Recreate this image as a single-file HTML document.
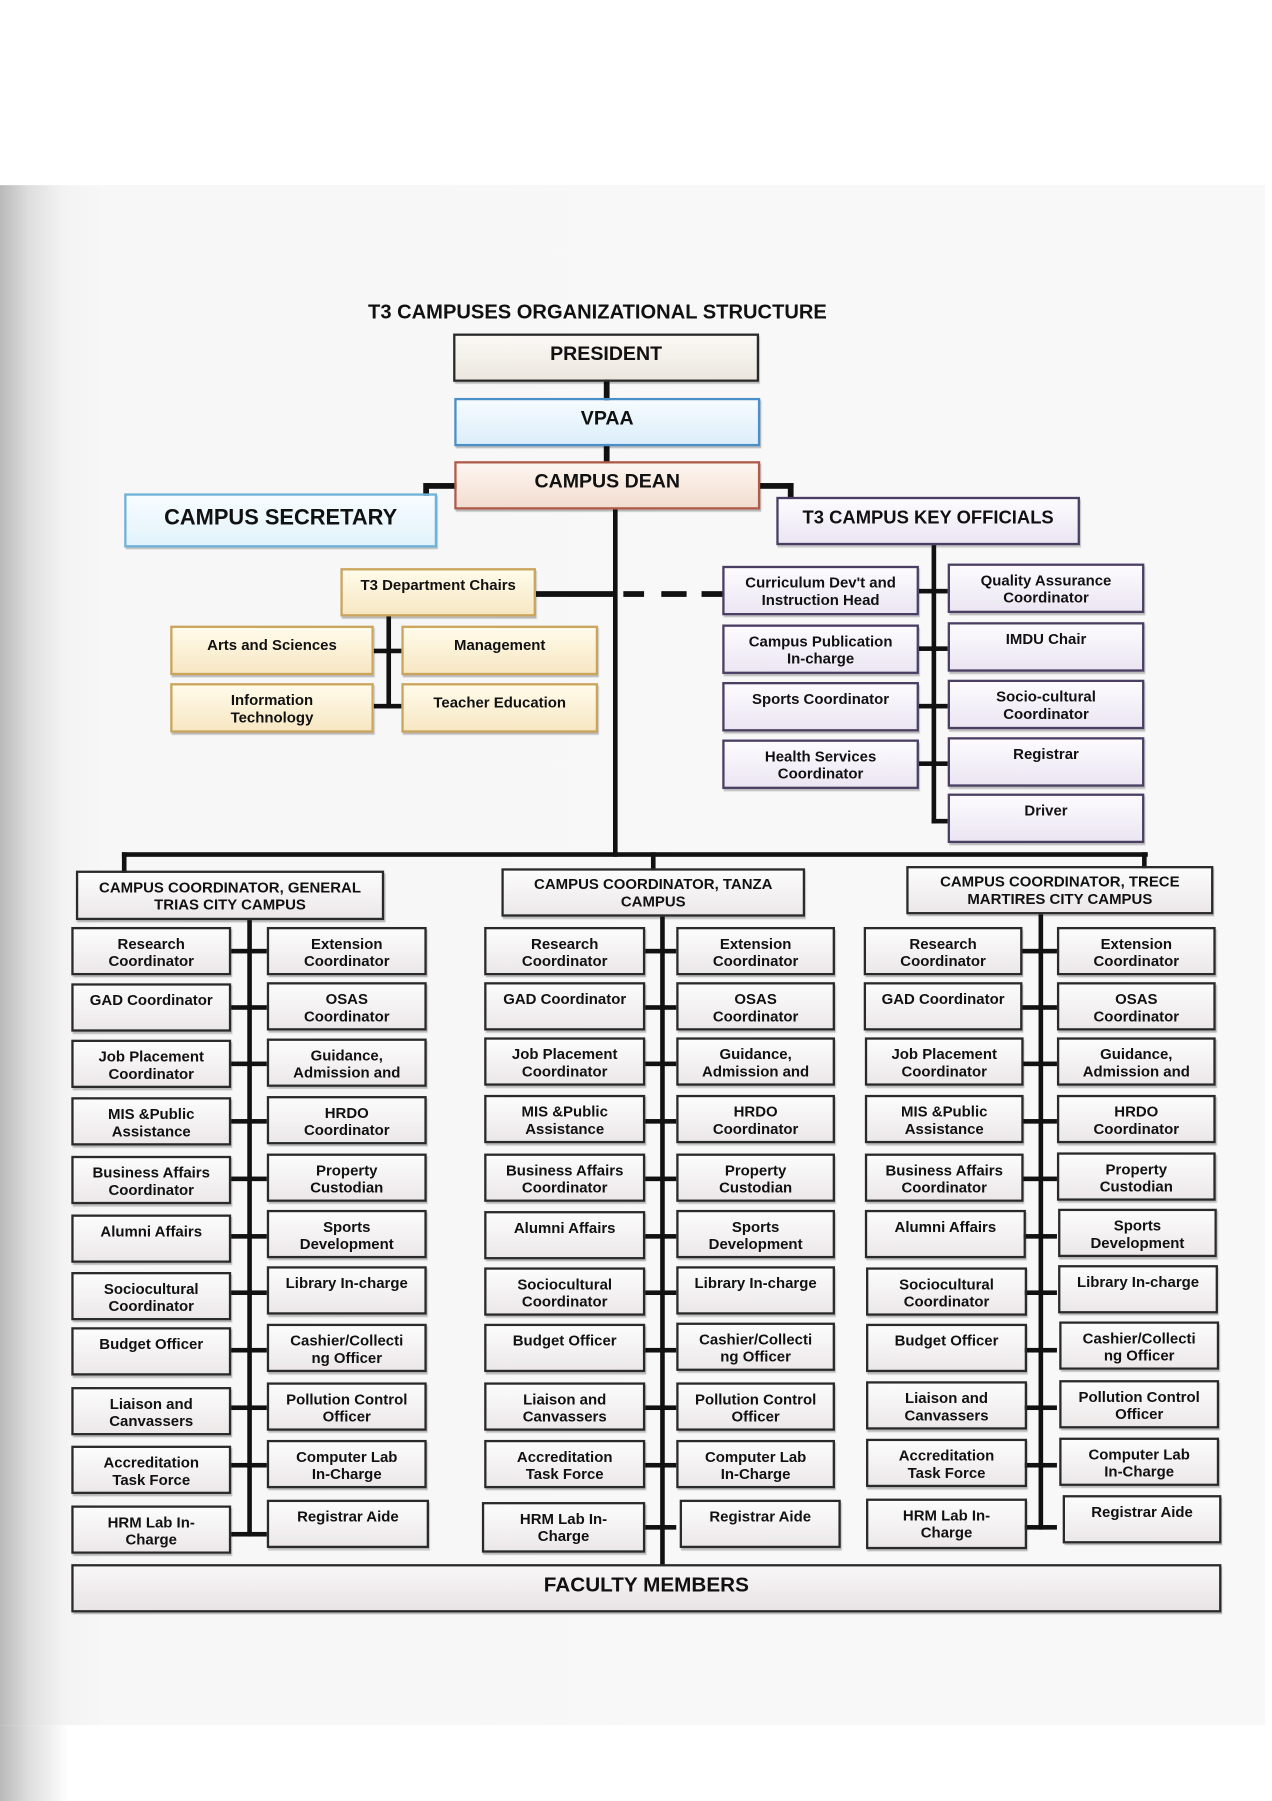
<!DOCTYPE html>
<html><head><meta charset="utf-8"><style>
html,body{margin:0;padding:0;background:#fff;}
body{width:1272px;height:1800px;overflow:hidden;position:relative;font-family:"Liberation Sans",sans-serif;}
#wrap{position:absolute;left:0;top:0;width:1106px;height:1566px;transform:scale(1.1501);transform-origin:0 0;}
.scan{position:absolute;left:0;top:161px;width:1100px;height:1339px;background:linear-gradient(90deg,#b9b9b9 0,#dedede 25px,#f3f3f3 55px,#f7f7f7 90px,#f9f8f8 100%);}
.lowgray{position:absolute;left:0;top:1500px;width:60px;height:66px;background:linear-gradient(90deg,#b9b9b9 0,#dedede 25px,#fff 60px);}
.b{position:absolute;box-sizing:border-box;border:2px solid #2a2a2a;background:linear-gradient(180deg,#fcfcfc,#ece8e9);font-weight:bold;font-size:13px;line-height:15px;text-align:center;color:#111;padding-top:5px;box-shadow:1px 2px 1px rgba(0,0,0,.25);}
.l{position:absolute;background:#111;}
.t{position:absolute;font-weight:bold;color:#111;white-space:nowrap;}
.y{border-color:#caa45a;background:linear-gradient(180deg,#fffbea,#f7e7c3);}
.p{border-color:#4a3e63;background:linear-gradient(180deg,#fdfbff,#ebe6f2);}
.big{font-size:17px;padding-top:8px;}
</style></head><body><div id="wrap">
<div class="scan"></div><div class="lowgray"></div>
<div class="t" style="left:320px;top:261px;font-size:17.5px;">T3 CAMPUSES ORGANIZATIONAL STRUCTURE</div>

<div class="l" style="left:525px;top:330px;width:5px;height:74px"></div>
<div class="b big" style="left:394px;top:290px;width:266px;height:42px;background:linear-gradient(180deg,#fbf9f5,#ece6df)">PRESIDENT</div>
<div class="b big" style="left:395px;top:346px;width:266px;height:42px;border-color:#4a8fc9;background:linear-gradient(180deg,#f6fbff,#dceefa)">VPAA</div>
<div class="l" style="left:370px;top:420px;width:28px;height:5px"></div>
<div class="l" style="left:368px;top:420px;width:5px;height:12px"></div>
<div class="l" style="left:660px;top:420px;width:30px;height:5px"></div>
<div class="l" style="left:685px;top:420px;width:5px;height:14px"></div>
<div class="b big" style="left:395px;top:401px;width:266px;height:42px;border-color:#b05a4a;background:linear-gradient(180deg,#fdf6f0,#f2ddd0)">CAMPUS DEAN</div>
<div class="b" style="left:108px;top:429px;width:272px;height:47px;border-color:#6fb2d8;background:linear-gradient(180deg,#f7fcff,#e2f3fb);font-size:19px;line-height:20px;padding-top:10px">CAMPUS SECRETARY</div>
<div class="b p" style="left:675px;top:432px;width:264px;height:42px;font-size:16px;padding-top:9px">T3 CAMPUS KEY OFFICIALS</div>

<div class="l" style="left:533px;top:443px;width:4px;height:302px"></div>
<div class="l" style="left:466px;top:514px;width:69px;height:5px"></div>
<div class="l" style="left:542px;top:514px;width:18px;height:5px"></div>
<div class="l" style="left:575px;top:514px;width:22px;height:5px"></div>
<div class="l" style="left:610px;top:514px;width:20px;height:5px"></div>

<div class="b y" style="left:296px;top:494px;width:170px;height:42px">T3 Department Chairs</div>
<div class="l" style="left:336px;top:536px;width:4px;height:80px"></div>
<div class="l" style="left:325px;top:564px;width:24px;height:4px"></div>
<div class="l" style="left:325px;top:612px;width:24px;height:4px"></div>
<div class="b y" style="left:148px;top:544px;width:177px;height:43px;padding-top:7px">Arts and Sciences</div>
<div class="b y" style="left:349px;top:544px;width:171px;height:43px;padding-top:7px">Management</div>
<div class="b y" style="left:148px;top:594px;width:177px;height:43px">Information<br>Technology</div>
<div class="b y" style="left:349px;top:594px;width:171px;height:43px;padding-top:7px">Teacher Education</div>

<div class="l" style="left:810px;top:474px;width:4px;height:242px"></div>
<div class="l" style="left:799px;top:512px;width:25px;height:4px"></div>
<div class="l" style="left:799px;top:562px;width:25px;height:4px"></div>
<div class="l" style="left:799px;top:612px;width:25px;height:4px"></div>
<div class="l" style="left:799px;top:662px;width:25px;height:4px"></div>
<div class="l" style="left:810px;top:712px;width:14px;height:4px"></div>
<div class="b p" style="left:628px;top:492px;width:171px;height:43px">Curriculum Dev't and<br>Instruction Head</div>
<div class="b p" style="left:628px;top:543px;width:171px;height:43px">Campus Publication<br>In-charge</div>
<div class="b p" style="left:628px;top:593px;width:171px;height:43px">Sports Coordinator</div>
<div class="b p" style="left:628px;top:643px;width:171px;height:43px">Health Services<br>Coordinator</div>
<div class="b p" style="left:824px;top:490px;width:171px;height:43px">Quality Assurance<br>Coordinator</div>
<div class="b p" style="left:824px;top:541px;width:171px;height:43px">IMDU Chair</div>
<div class="b p" style="left:824px;top:591px;width:171px;height:43px">Socio-cultural<br>Coordinator</div>
<div class="b p" style="left:824px;top:641px;width:171px;height:43px">Registrar</div>
<div class="b p" style="left:824px;top:690px;width:171px;height:43px">Driver</div>

<div class="l" style="left:106px;top:741px;width:892px;height:4px"></div>
<div class="l" style="left:106px;top:741px;width:4px;height:18px"></div>
<div class="l" style="left:566px;top:741px;width:4px;height:16px"></div>
<div class="l" style="left:993px;top:741px;width:4px;height:14px"></div>
<div class="b" style="left:66px;top:757px;width:268px;height:43px">CAMPUS COORDINATOR, GENERAL<br>TRIAS CITY CAMPUS</div>
<div class="b" style="left:436px;top:755px;width:264px;height:42px;padding-top:4px">CAMPUS COORDINATOR, TANZA<br>CAMPUS</div>
<div class="b" style="left:788px;top:753px;width:267px;height:42px;padding-top:4px">CAMPUS COORDINATOR, TRECE<br>MARTIRES CITY CAMPUS</div>

<div class="l" style="left:215px;top:800px;width:4px;height:536px"></div>
<div class="l" style="left:574px;top:797px;width:4px;height:564px"></div>
<div class="l" style="left:903px;top:795px;width:4px;height:535px"></div>

<div style="position:absolute;left:0;top:0">
<div class="l" style="left:201px;top:825px;width:31px;height:4px"></div><div class="l" style="left:201px;top:874px;width:31px;height:4px"></div><div class="l" style="left:201px;top:923px;width:31px;height:4px"></div><div class="l" style="left:201px;top:973px;width:31px;height:4px"></div><div class="l" style="left:201px;top:1023px;width:31px;height:4px"></div><div class="l" style="left:201px;top:1073px;width:31px;height:4px"></div><div class="l" style="left:201px;top:1122px;width:31px;height:4px"></div><div class="l" style="left:201px;top:1172px;width:31px;height:4px"></div><div class="l" style="left:201px;top:1222px;width:31px;height:4px"></div><div class="l" style="left:201px;top:1272px;width:31px;height:4px"></div><div class="l" style="left:201px;top:1332px;width:31px;height:4px"></div>
<div class="l" style="left:561px;top:825px;width:27px;height:4px"></div><div class="l" style="left:561px;top:874px;width:27px;height:4px"></div><div class="l" style="left:561px;top:923px;width:27px;height:4px"></div><div class="l" style="left:561px;top:973px;width:27px;height:4px"></div><div class="l" style="left:561px;top:1023px;width:27px;height:4px"></div><div class="l" style="left:561px;top:1073px;width:27px;height:4px"></div><div class="l" style="left:561px;top:1122px;width:27px;height:4px"></div><div class="l" style="left:561px;top:1172px;width:27px;height:4px"></div><div class="l" style="left:561px;top:1222px;width:27px;height:4px"></div><div class="l" style="left:561px;top:1272px;width:27px;height:4px"></div><div class="l" style="left:561px;top:1326px;width:27px;height:4px"></div>
<div class="l" style="left:889px;top:825px;width:30px;height:4px"></div><div class="l" style="left:889px;top:874px;width:30px;height:4px"></div><div class="l" style="left:889px;top:923px;width:30px;height:4px"></div><div class="l" style="left:889px;top:973px;width:30px;height:4px"></div><div class="l" style="left:889px;top:1023px;width:30px;height:4px"></div><div class="l" style="left:889px;top:1073px;width:30px;height:4px"></div><div class="l" style="left:889px;top:1122px;width:30px;height:4px"></div><div class="l" style="left:889px;top:1172px;width:30px;height:4px"></div><div class="l" style="left:889px;top:1222px;width:30px;height:4px"></div><div class="l" style="left:889px;top:1272px;width:30px;height:4px"></div><div class="l" style="left:889px;top:1326px;width:30px;height:4px"></div>
</div>

<div class="b" style="left:62px;top:806px;width:139px;height:42px">Research<br>Coordinator</div>
<div class="b" style="left:62px;top:855px;width:139px;height:42px">GAD Coordinator</div>
<div class="b" style="left:62px;top:904px;width:139px;height:42px">Job Placement<br>Coordinator</div>
<div class="b" style="left:62px;top:954px;width:139px;height:42px">MIS &amp;Public<br>Assistance</div>
<div class="b" style="left:62px;top:1005px;width:139px;height:42px">Business Affairs<br>Coordinator</div>
<div class="b" style="left:62px;top:1056px;width:139px;height:42px">Alumni Affairs</div>
<div class="b" style="left:62px;top:1106px;width:139px;height:42px">Sociocultural<br>Coordinator</div>
<div class="b" style="left:62px;top:1154px;width:139px;height:42px">Budget Officer</div>
<div class="b" style="left:62px;top:1206px;width:139px;height:42px">Liaison and<br>Canvassers</div>
<div class="b" style="left:62px;top:1257px;width:139px;height:42px">Accreditation<br>Task Force</div>
<div class="b" style="left:62px;top:1309px;width:139px;height:42px">HRM Lab In-<br>Charge</div>
<div class="b" style="left:232px;top:806px;width:139px;height:42px">Extension<br>Coordinator</div>
<div class="b" style="left:232px;top:854px;width:139px;height:42px">OSAS<br>Coordinator</div>
<div class="b" style="left:232px;top:903px;width:139px;height:42px">Guidance,<br>Admission and</div>
<div class="b" style="left:232px;top:953px;width:139px;height:42px">HRDO<br>Coordinator</div>
<div class="b" style="left:232px;top:1003px;width:139px;height:42px">Property<br>Custodian</div>
<div class="b" style="left:232px;top:1052px;width:139px;height:42px">Sports<br>Development</div>
<div class="b" style="left:232px;top:1101px;width:139px;height:42px">Library In-charge</div>
<div class="b" style="left:232px;top:1151px;width:139px;height:42px">Cashier/Collecti<br>ng Officer</div>
<div class="b" style="left:232px;top:1202px;width:139px;height:42px">Pollution Control<br>Officer</div>
<div class="b" style="left:232px;top:1252px;width:139px;height:42px">Computer Lab<br>In-Charge</div>
<div class="b" style="left:232px;top:1304px;width:141px;height:42px">Registrar Aide</div>
<div class="b" style="left:421px;top:806px;width:140px;height:42px">Research<br>Coordinator</div>
<div class="b" style="left:421px;top:854px;width:140px;height:42px">GAD Coordinator</div>
<div class="b" style="left:421px;top:902px;width:140px;height:42px">Job Placement<br>Coordinator</div>
<div class="b" style="left:421px;top:952px;width:140px;height:42px">MIS &amp;Public<br>Assistance</div>
<div class="b" style="left:421px;top:1003px;width:140px;height:42px">Business Affairs<br>Coordinator</div>
<div class="b" style="left:421px;top:1053px;width:140px;height:42px">Alumni Affairs</div>
<div class="b" style="left:421px;top:1102px;width:140px;height:42px">Sociocultural<br>Coordinator</div>
<div class="b" style="left:421px;top:1151px;width:140px;height:42px">Budget Officer</div>
<div class="b" style="left:421px;top:1202px;width:140px;height:42px">Liaison and<br>Canvassers</div>
<div class="b" style="left:421px;top:1252px;width:140px;height:42px">Accreditation<br>Task Force</div>
<div class="b" style="left:419px;top:1306px;width:142px;height:44px">HRM Lab In-<br>Charge</div>
<div class="b" style="left:588px;top:806px;width:138px;height:42px">Extension<br>Coordinator</div>
<div class="b" style="left:588px;top:854px;width:138px;height:42px">OSAS<br>Coordinator</div>
<div class="b" style="left:588px;top:902px;width:138px;height:42px">Guidance,<br>Admission and</div>
<div class="b" style="left:588px;top:952px;width:138px;height:42px">HRDO<br>Coordinator</div>
<div class="b" style="left:588px;top:1003px;width:138px;height:42px">Property<br>Custodian</div>
<div class="b" style="left:588px;top:1052px;width:138px;height:42px">Sports<br>Development</div>
<div class="b" style="left:588px;top:1101px;width:138px;height:42px">Library In-charge</div>
<div class="b" style="left:588px;top:1150px;width:138px;height:42px">Cashier/Collecti<br>ng Officer</div>
<div class="b" style="left:588px;top:1202px;width:138px;height:42px">Pollution Control<br>Officer</div>
<div class="b" style="left:588px;top:1252px;width:138px;height:42px">Computer Lab<br>In-Charge</div>
<div class="b" style="left:591px;top:1304px;width:140px;height:42px">Registrar Aide</div>
<div class="b" style="left:751px;top:806px;width:138px;height:42px">Research<br>Coordinator</div>
<div class="b" style="left:751px;top:854px;width:138px;height:42px">GAD Coordinator</div>
<div class="b" style="left:752px;top:902px;width:138px;height:42px">Job Placement<br>Coordinator</div>
<div class="b" style="left:752px;top:952px;width:138px;height:42px">MIS &amp;Public<br>Assistance</div>
<div class="b" style="left:752px;top:1003px;width:138px;height:42px">Business Affairs<br>Coordinator</div>
<div class="b" style="left:752px;top:1052px;width:140px;height:42px">Alumni Affairs</div>
<div class="b" style="left:753px;top:1102px;width:140px;height:42px">Sociocultural<br>Coordinator</div>
<div class="b" style="left:753px;top:1151px;width:140px;height:42px">Budget Officer</div>
<div class="b" style="left:753px;top:1201px;width:140px;height:42px">Liaison and<br>Canvassers</div>
<div class="b" style="left:753px;top:1251px;width:140px;height:42px">Accreditation<br>Task Force</div>
<div class="b" style="left:753px;top:1303px;width:140px;height:44px">HRM Lab In-<br>Charge</div>
<div class="b" style="left:919px;top:806px;width:138px;height:42px">Extension<br>Coordinator</div>
<div class="b" style="left:919px;top:854px;width:138px;height:42px">OSAS<br>Coordinator</div>
<div class="b" style="left:919px;top:902px;width:138px;height:42px">Guidance,<br>Admission and</div>
<div class="b" style="left:919px;top:952px;width:138px;height:42px">HRDO<br>Coordinator</div>
<div class="b" style="left:919px;top:1002px;width:138px;height:42px">Property<br>Custodian</div>
<div class="b" style="left:920px;top:1051px;width:138px;height:42px">Sports<br>Development</div>
<div class="b" style="left:920px;top:1100px;width:139px;height:42px">Library In-charge</div>
<div class="b" style="left:921px;top:1149px;width:139px;height:42px">Cashier/Collecti<br>ng Officer</div>
<div class="b" style="left:921px;top:1200px;width:139px;height:42px">Pollution Control<br>Officer</div>
<div class="b" style="left:921px;top:1250px;width:139px;height:42px">Computer Lab<br>In-Charge</div>
<div class="b" style="left:924px;top:1300px;width:138px;height:42px">Registrar Aide</div>

<div class="b" style="left:62px;top:1360px;width:1000px;height:42px;font-size:18px;padding-top:9px;background:linear-gradient(180deg,#f8f7f7,#e9e3e5)">FACULTY MEMBERS</div>
</div></body></html>
